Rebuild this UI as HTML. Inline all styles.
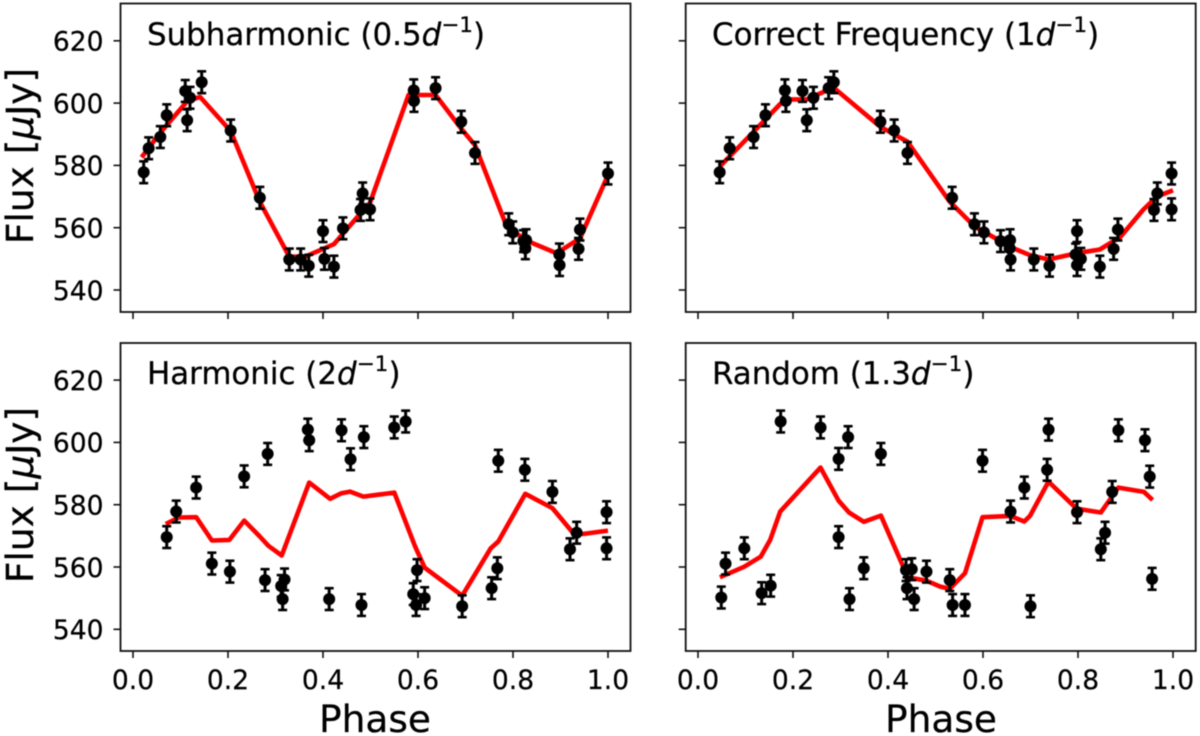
<!DOCTYPE html>
<html>
<head>
<meta charset="utf-8">
<title>Flux vs Phase</title>
<style>
html,body{margin:0;padding:0;background:#fff;width:1200px;height:736px;overflow:hidden}
svg{display:block;filter:blur(0.45px)}
text{font-family:"DejaVu Sans","Liberation Sans",sans-serif;fill:#000;stroke:#000;stroke-width:0.25px}
</style>
</head>
<body>
<svg id="chart" xmlns="http://www.w3.org/2000/svg" width="1200" height="736" viewBox="0 0 1200 736">
  <rect width="1200" height="736" fill="#fff"/>
  <g id="panels"></g>
  <text x="147" y="45" font-size="30.9">Subharmonic (0.5<tspan font-style="italic">d</tspan><tspan font-size="21.6" dy="-13">−1</tspan><tspan dy="13">)</tspan></text>
  <text x="712" y="45" font-size="30.9">Correct Frequency (1<tspan font-style="italic">d</tspan><tspan font-size="21.6" dy="-13">−1</tspan><tspan dy="13">)</tspan></text>
  <text x="147" y="384" font-size="30.9">Harmonic (2<tspan font-style="italic">d</tspan><tspan font-size="21.6" dy="-13">−1</tspan><tspan dy="13">)</tspan></text>
  <text x="712" y="384" font-size="30.9">Random (1.3<tspan font-style="italic">d</tspan><tspan font-size="21.6" dy="-13">−1</tspan><tspan dy="13">)</tspan></text>
  <text transform="translate(33,156) rotate(-90)" text-anchor="middle" font-size="37.5">Flux [<tspan font-style="italic">μ</tspan>Jy]</text>
  <text transform="translate(33,495) rotate(-90)" text-anchor="middle" font-size="37.5">Flux [<tspan font-style="italic">μ</tspan>Jy]</text>
  <text x="375" y="732" text-anchor="middle" font-size="37.5">Phase</text>
  <text x="941" y="732" text-anchor="middle" font-size="37.5">Phase</text>
</svg>
<script>
const xTickValues = [0, 0.2, 0.4, 0.6, 0.8, 1.0];
const xTickLabels = ['0.0', '0.2', '0.4', '0.6', '0.8', '1.0'];
const yTickValues = [540, 560, 580, 600, 620];
const yTickLabels = ['540', '560', '580', '600', '620'];
const fluxError = 3.5;

const subPhase = [.0225,.033,.0575,.071,.110,.114,.12,.1446,.2056,.267,.329,.353,.37,.40,.403,.423,.442,.4835,.479,.499,.591,.5916,.637,.691,.72,.791,.7995,.822,.8275,.826,.8976,.898,.938,.941,1.0];
const subFlux = [577.8,585.5,589.1,596.1,603.9,594.5,601.7,606.7,591.2,569.6,549.8,549.8,547.8,558.9,550,547.5,559.8,571,565.7,565.9,604.1,600.7,604.8,594,584,561.1,558.5,555.7,556,553.4,551.4,548,553.2,559.4,577.4];
const subFitPhase = [.018,.0575,.114,.141,.2056,.267,.329,.362,.423,.479,.499,.58,.637,.691,.72,.787,.829,.892,.941,1.0];
const subFitFlux = [582.6,590.5,600.6,602,591,568.3,550.7,550.7,554.7,564.6,568,602.6,602.6,591.8,586.5,560.3,555.8,551.8,556.6,576.9];

const corPhase = [.0456,.0667,.117,.142,.183,.185,.22,.229,.243,.275,.286,.384,.413,.441,.535,.582,.602,.637,.657,.656,.658,.707,.74,.798,.795,.798,.806,.846,.875,.884,.96,.967,.997,.997];
const corFlux = [577.8,585.5,589.1,596.1,604.1,600.7,603.9,594.5,601.7,604.8,606.7,594,591.2,584,569.6,561.1,558.5,555.7,556,553.4,549.8,549.8,547.8,558.9,551.4,548,550,547.5,553.2,559.4,565.7,571,577.4,565.9];
const corFitPhase = [.0456,.117,.173,.195,.229,.285,.384,.441,.53,.583,.664,.699,.738,.797,.846,.889,.937,.966,1.0];
const corFitFlux = [579.6,590.8,599.7,601.2,601.2,605,592.4,587.6,568.3,560.3,553.4,551.2,549.8,551.8,553,557,565.7,570,572];

const harPhase = [.071,.091,.133,.166,.204,.234,.2835,.278,.312,.319,.315,.368,.371,.413,.439,.458,.481,.486,.55,.574,.598,.59,.596,.614,.693,.755,.767,.769,.825,.883,.92,.934,.997,.997];
const harFlux = [569.6,577.8,585.5,561.1,558.5,589.1,596.3,555.8,553.9,556,549.7,604.1,600.7,549.7,603.9,594.6,547.8,601.7,604.8,606.7,559,551.3,547.8,550,547.4,553.2,559.6,594.1,591.2,584.1,565.7,571,577.6,566];
const harFitPhase = [.069,.096,.133,.166,.203,.234,.267,.285,.313,.371,.415,.439,.457,.485,.55,.594,.614,.693,.753,.769,.826,.883,.925,.947,1.0];
const harFitFlux = [573.8,575.9,576,568.5,568.7,574.9,569.8,566.8,563.7,587.1,581.9,583.7,584.2,582.6,583.9,566.6,559.8,550.8,566,568.2,583.5,578.9,571.2,570.6,571.7];

const ranPhase = [.049,.058,.0975,.134,.153,.174,.258,.296,.296,.316,.319,.349,.385,.438,.45,.44,.455,.481,.53,.536,.562,.599,.658,.687,.7,.738,.735,.798,.848,.857,.872,.885,.941,.951,.956];
const ranFlux = [550.2,561.1,566,551.6,554,606.7,604.8,594.7,569.6,601.7,549.7,559.6,596.3,559,559.3,553.2,549.7,558.5,555.8,547.8,547.8,594.1,577.8,585.5,547.4,604.1,591.2,577.6,565.7,571,584.1,603.9,600.7,589,556.2];
const ranFitPhase = [.046,.0975,.132,.152,.173,.258,.296,.318,.349,.385,.432,.441,.481,.51,.53,.562,.599,.657,.687,.699,.738,.797,.848,.885,.939,.957];
const ranFitFlux = [556.7,560.1,563.3,568.7,577.8,591.9,581.3,577.5,574.5,576.5,560.1,556.7,555.6,553.7,553,558,576,576.4,574.6,576.4,587.4,578.7,577.5,585.5,584.1,581.5];

const NS = 'http://www.w3.org/2000/svg';
const root = document.getElementById('panels');

function make(tag, attrs, parent) {
  const el = document.createElementNS(NS, tag);
  for (const k in attrs) el.setAttribute(k, attrs[k]);
  parent.appendChild(el);
  return el;
}

function drawPanel(p) {
  const xScale = v => p.x0 + v * 475;
  const yScale = v => p.y540 - (v - 540) * p.yUnit;
  const g = make('g', {}, root);
  
  

  xTickValues.forEach((v, i) => {
    const t = make('line', {x1: xScale(v), x2: xScale(v), y1: p.bottom, y2: p.bottom + 7, stroke: '#111', 'stroke-width': 1.6}, g);
    
    
    if (p.xLabels) {
      const l = make('text', {x: xScale(v), y: 689, 'text-anchor': 'middle', 'font-size': 26.5}, g);
      l.textContent = xTickLabels[i];
      
      
    }
  });
  yTickValues.forEach((v, i) => {
    const t = make('line', {x1: p.left - 7, x2: p.left, y1: yScale(v), y2: yScale(v), stroke: '#111', 'stroke-width': 1.6}, g);
    
    
    if (p.yLabels) {
      const l = make('text', {x: p.left - 17, y: yScale(v) + 9.8, 'text-anchor': 'end', 'font-size': 26.5}, g);
      l.textContent = yTickLabels[i];
      
      
    }
  });

  const pts = p.fitPhase.map((v, i) => xScale(v).toFixed(1) + ',' + yScale(p.fitFlux[i]).toFixed(1)).join(' ');
  const fit = make('polyline', {points: pts, fill: 'none', stroke: '#f00', 'stroke-width': 4.6, 'stroke-linejoin': 'round'}, g);
  
  

  p.phase.forEach((v, i) => {
    const cx = xScale(v);
    const hi = yScale(p.flux[i] + fluxError);
    const lo = yScale(p.flux[i] - fluxError);
    const pt = make('g', {stroke: '#000', 'stroke-width': 3}, g);
    
    
    make('line', {x1: cx, x2: cx, y1: hi, y2: lo}, pt);
    make('line', {x1: cx - 4.5, x2: cx + 4.5, y1: hi, y2: hi, 'stroke-width': 2.6}, pt);
    make('line', {x1: cx - 4.5, x2: cx + 4.5, y1: lo, y2: lo, 'stroke-width': 2.6}, pt);
    make('circle', {cx: cx, cy: yScale(p.flux[i]), r: 6, fill: '#000', stroke: 'none'}, pt);
  });

  const frame = make('rect', {x: p.left, y: p.top, width: 510, height: p.bottom - p.top, fill: 'none', stroke: '#111', 'stroke-width': 1.8}, g);
  
  
}

drawPanel({name: 'subharmonic', left: 120.5, top: 3.5, bottom: 312, x0: 133, y540: 290, yUnit: 3.115, xLabels: false, yLabels: true, phase: subPhase, flux: subFlux, fitPhase: subFitPhase, fitFlux: subFitFlux});
drawPanel({name: 'correct-frequency', left: 685.7, top: 3.5, bottom: 312, x0: 698, y540: 290, yUnit: 3.115, xLabels: false, yLabels: false, phase: corPhase, flux: corFlux, fitPhase: corFitPhase, fitFlux: corFitFlux});
drawPanel({name: 'harmonic', left: 120.5, top: 343, bottom: 651, x0: 133, y540: 629.3, yUnit: 3.115, xLabels: true, yLabels: true, phase: harPhase, flux: harFlux, fitPhase: harFitPhase, fitFlux: harFitFlux});
drawPanel({name: 'random', left: 685.7, top: 343, bottom: 651, x0: 698, y540: 629.3, yUnit: 3.115, xLabels: true, yLabels: false, phase: ranPhase, flux: ranFlux, fitPhase: ranFitPhase, fitFlux: ranFitFlux});
</script>
</body>
</html>
